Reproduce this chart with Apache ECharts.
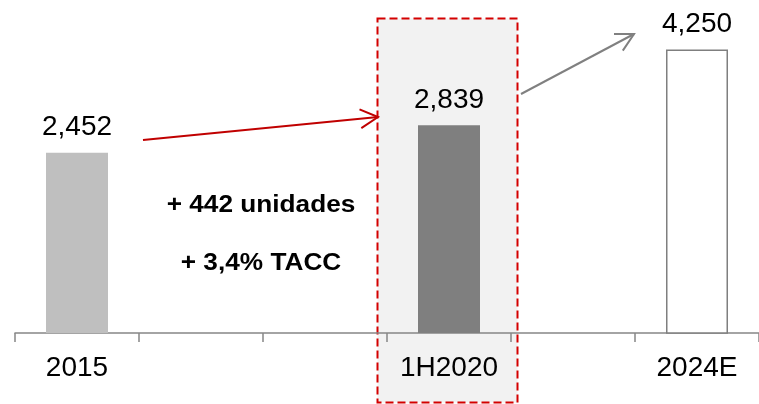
<!DOCTYPE html>
<html>
<head>
<meta charset="utf-8">
<script src="https://cdn.jsdelivr.net/npm/echarts@6/dist/echarts.min.js"></script>
<style>
  html, body { margin: 0; padding: 0; background: #fff; }
  #chart { width: 759px; height: 404px; }
</style>
</head>
<body>
<div id="chart"></div>
<script>
// ---- data ----
const categories = ['2015', '', '', '1H2020', '', '2024E'];
const values = [2452, null, null, 2839, null, 4250];
const barColors = ['#bfbfbf', null, null, '#7f7f7f', null, '#ffffff'];
const noteLines = ['+ 442 unidades', '+ 3,4% TACC'];

const FONT = 'Liberation Sans, Arial, sans-serif';

const chart = echarts.init(document.getElementById('chart'), null, { renderer: 'canvas' });

const seriesData = values.map((v, i) => {
  if (v === null) return '-';
  const item = { value: v, itemStyle: { color: barColors[i] } };
  if (barColors[i] === '#ffffff') {
    item.itemStyle.borderColor = '#7f7f7f';
    item.itemStyle.borderWidth = 1.5;
  }
  return item;
});

function arrow(x1, y1, x2, y2, color) {
  const ang = Math.atan2(y2 - y1, x2 - x1);
  const len = 20, spread = 28 * Math.PI / 180;
  const a1 = [x2 - len * Math.cos(ang - spread), y2 - len * Math.sin(ang - spread)];
  const a2 = [x2 - len * Math.cos(ang + spread), y2 - len * Math.sin(ang + spread)];
  return [
    { type: 'line', z: 5, shape: { x1, y1, x2, y2 }, style: { stroke: color, lineWidth: 2 } },
    { type: 'polyline', z: 5, shape: { points: [a1, [x2, y2], a2] }, style: { stroke: color, lineWidth: 2, fill: null } }
  ];
}

const option = {
  animation: false,
  backgroundColor: '#ffffff',
  grid: { left: 15, right: 0, top: 20, bottom: 71, outerBoundsMode: 'none', containLabel: false },
  xAxis: {
    type: 'category',
    data: categories,
    boundaryGap: true,
    axisLine: { show: true, lineStyle: { color: '#868686', width: 1.5 } },
    axisTick: { show: true, interval: 0, length: 9, lineStyle: { color: '#868686', width: 1.5 } },
    axisLabel: { interval: 0, fontSize: 28, color: '#000', fontFamily: FONT, margin: 21 },
    splitLine: { show: false }
  },
  yAxis: {
    type: 'log',
    min: 937,
    max: 4974,
    show: false,
    splitLine: { show: false }
  },
  series: [{
    type: 'bar',
    data: seriesData,
    barWidth: 62,
    z: 3,
    label: {
      show: true,
      position: 'top',
      distance: 11,
      fontSize: 28,
      color: '#000',
      fontFamily: FONT,
      formatter: p => Number(p.value).toLocaleString('en-US')
    }
  }],
  graphic: [
    {
      type: 'rect', z: -1,
      shape: { x: 377.5, y: 18.5, width: 140, height: 384 },
      style: { fill: '#f2f2f2', stroke: '#d40000', lineWidth: 2, lineDash: [8, 4] }
    },
    ...arrow(143, 140, 378, 117, '#c00000'),
    ...arrow(521, 94, 634, 34, '#808080'),
    {
      type: 'text', z: 5, x: 261, y: 206, scaleX: 1.14,
      style: { text: noteLines[0], font: 'bold 23px ' + FONT, fill: '#000', align: 'center', verticalAlign: 'middle' }
    },
    {
      type: 'text', z: 5, x: 261, y: 264, scaleX: 1.14,
      style: { text: noteLines[1], font: 'bold 23px ' + FONT, fill: '#000', align: 'center', verticalAlign: 'middle' }
    }
  ]
};

chart.setOption(option);
</script>
</body>
</html>
